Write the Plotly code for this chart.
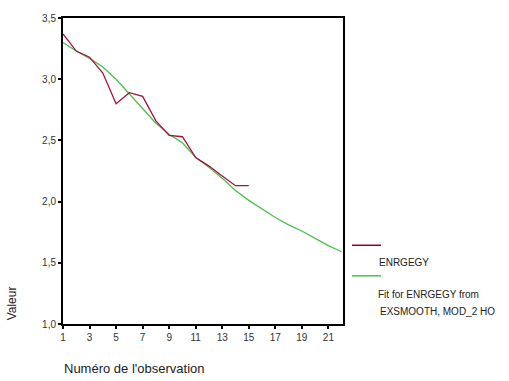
import plotly.graph_objects as go

obs_red = list(range(1, 16))
energy = [3.37, 3.23, 3.18, 3.05, 2.80, 2.89, 2.86, 2.66, 2.54, 2.53, 2.36, 2.29, 2.21, 2.13, 2.13]
obs_fit = list(range(1, 23))
fit = [3.30, 3.23, 3.17, 3.10, 3.00, 2.88, 2.76, 2.64, 2.55, 2.48, 2.36, 2.28, 2.19, 2.09,
       2.01, 1.94, 1.87, 1.81, 1.76, 1.70, 1.64, 1.59]
x_ticks = list(range(1, 22, 2))
y_ticks = [1.0, 1.5, 2.0, 2.5, 3.0, 3.5]
y_labels = ["1,0", "1,5", "2,0", "2,5", "3,0", "3,5"]

RED = "#a8103c"
GREEN = "#4cc04c"

L, R, T, B = 63, 166, 13, 57
W, H = 509, 381
pw, ph = W - L - R, H - T - B
def px(x): return (x - L) / pw
def py(y): return (H - B - y) / ph

fig = go.Figure()
fig.add_trace(go.Scatter(x=obs_fit, y=fit, mode="lines", line=dict(color=GREEN, width=1.3),
                         name="Fit for ENRGEGY from EXSMOOTH, MOD_2 HO", showlegend=False))
fig.add_trace(go.Scatter(x=obs_red, y=energy, mode="lines", line=dict(color=RED, width=1.3),
                         name="ENRGEGY", showlegend=False))

def ann(text, x, y, size, angle=0, anchor="left"):
    return dict(text=text, x=px(x), y=py(y), xref="paper", yref="paper", showarrow=False,
                textangle=angle, font=dict(size=size, color="#222"), xanchor=anchor,
                yanchor="middle")

fig.update_layout(
    width=W, height=H,
    margin=dict(l=L, r=R, t=T, b=B),
    paper_bgcolor="white", plot_bgcolor="white",
    font=dict(family="Liberation Sans, Arial, sans-serif", size=10, color="#333"),
    xaxis=dict(range=[1, 22.1], tickvals=x_ticks, ticks="outside", ticklen=3, tickwidth=2,
               tickcolor="black", showline=True, linecolor="black", linewidth=2, mirror=True,
               showgrid=False, zeroline=False, tickfont=dict(size=10, color="#333")),
    yaxis=dict(range=[1.0, 3.5], tickvals=y_ticks, ticktext=y_labels, ticks="outside", ticklen=3,
               tickwidth=2, tickcolor="black", showline=True, linecolor="black", linewidth=2,
               mirror=True, showgrid=False, zeroline=False, tickfont=dict(size=10, color="#333")),
    annotations=[
        ann("Valeur", 12, 303, 12, angle=-90, anchor="center"),
        ann("Numéro de l'observation", 62, 369, 13),
        ann("ENRGEGY", 377, 262, 10),
        ann("Fit for ENRGEGY from", 376, 294, 10),
        ann("EXSMOOTH, MOD_2 HO", 378, 311, 10),
    ],
)

fig.add_shape(type="line", xref="paper", yref="paper", x0=px(352), x1=px(381), y0=py(244), y1=py(244),
              line=dict(color="#800040", width=1.5))
fig.add_shape(type="line", xref="paper", yref="paper", x0=px(352), x1=px(381), y0=py(275), y1=py(275),
              line=dict(color=GREEN, width=1.5))

fig.write_html("out.html")
